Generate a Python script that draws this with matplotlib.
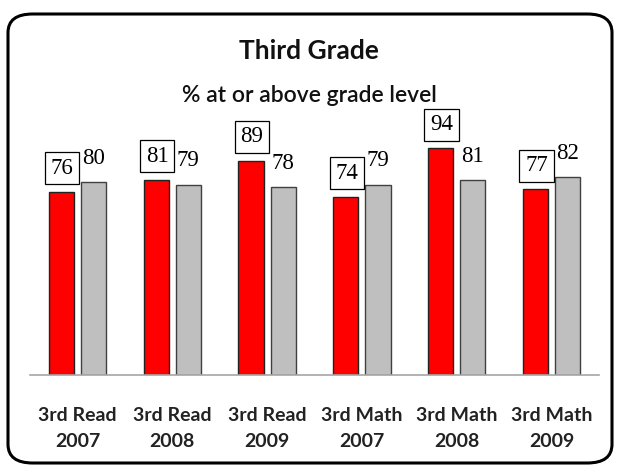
import matplotlib
matplotlib.use("Agg")
import matplotlib.pyplot as plt
from matplotlib.patches import FancyBboxPatch

# values
categories = ["3rd Read\n2007", "3rd Read\n2008", "3rd Read\n2009",
              "3rd Math\n2007", "3rd Math\n2008", "3rd Math\n2009"]
school = [76, 81, 89, 74, 94, 77]
state = [80, 79, 78, 79, 81, 82]

W, H = 618, 466
fig = plt.figure(figsize=(W / 100, H / 100), dpi=100)

# rounded outer frame
frame = FancyBboxPatch((8 / W, 3 / H), 604 / W, (H - 14 - 3) / H,
                       boxstyle="round,pad=0,rounding_size=0.04",
                       transform=fig.transFigure, fill=False,
                       edgecolor="black", linewidth=2.2, clip_on=False)
fig.patches.append(frame)

fig.text(0.5, 1 - 51 / H, "Third Grade", ha="center", va="center",
         fontsize=19, fontweight="bold", family="Lato", color="#111111")
fig.text(0.5, 1 - 96 / H, "% at or above grade level", ha="center", va="center",
         fontsize=16.5, fontweight="semibold", family="Lato", color="#111111")

ax = fig.add_axes([30 / W, 91 / H, 569 / W, 241 / H])
x = list(range(len(categories)))
bw, off = 0.265, 0.17
ax.bar([i - off for i in x], school, bw, color="#FF0000", edgecolor="#222222", linewidth=1)
ax.bar([i + off for i in x], state, bw, color="#BFBFBF", edgecolor="#404040", linewidth=1)

for i, v in enumerate(school):
    ax.annotate(str(v), (i - off + 0.01, v), xytext=(0, 17), textcoords="offset points",
                ha="center", va="center", fontsize=16.5, family="Liberation Serif",
                bbox=dict(boxstyle="square,pad=0.25", fc="white", ec="black", lw=0.9),
                annotation_clip=False)
for i, v in enumerate(state):
    ax.annotate(str(v), (i + off, v), xytext=(0, 17), textcoords="offset points",
                ha="center", va="center", fontsize=16.5, family="Liberation Serif",
                annotation_clip=False)

ax.set_xlim(-0.5, len(categories) - 0.5)
ax.set_ylim(0, 100)
ax.set_xticks(x)
ax.set_xticklabels(categories, fontsize=14, fontweight="bold", family="Lato",
                   color="#222222", linespacing=1.65)
ax.tick_params(axis="x", length=0, pad=23)
ax.set_yticks([])
for s in ["top", "right", "left"]:
    ax.spines[s].set_visible(False)
ax.spines["bottom"].set_color("#A6A6A6")
ax.spines["bottom"].set_linewidth(1.2)

fig.savefig("out.png", dpi=100)
